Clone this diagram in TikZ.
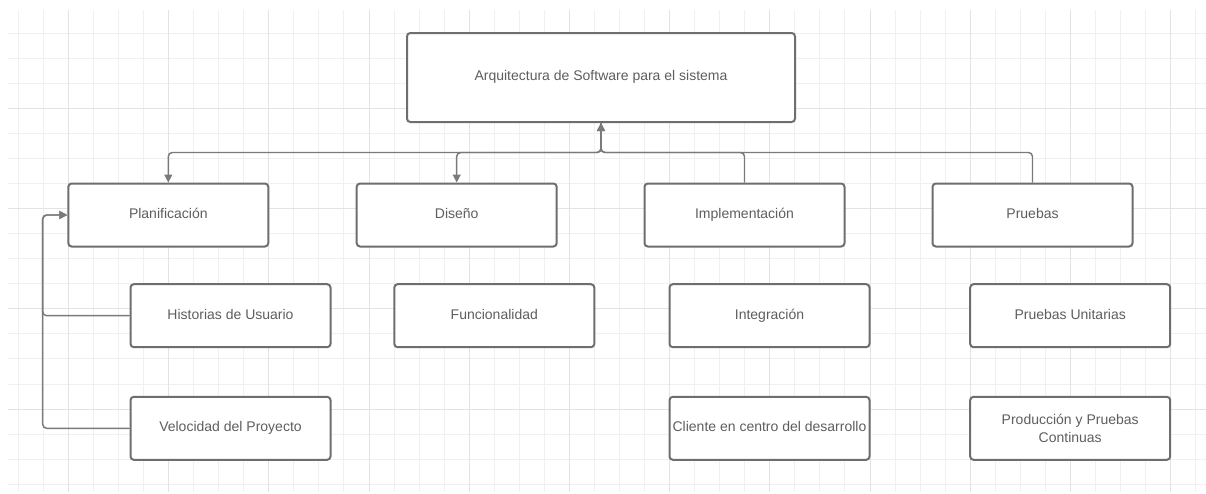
\documentclass[tikz,border=0pt]{standalone}
\usepackage{fontspec}
\setmainfont{Liberation Sans}
\usetikzlibrary{arrows.meta}
\definecolor{gridminor}{HTML}{F0F0F0}
\definecolor{gridmajor}{HTML}{E3E3E3}
\definecolor{boxline}{HTML}{6E6E6E}
\definecolor{linkline}{HTML}{7A7A7A}
\definecolor{labeltext}{HTML}{5E5E5E}
\begin{document}
\begin{tikzpicture}[x=0.75pt,y=-0.75pt,
  box/.style={draw=boxline,line width=1.5pt,rounded corners=2.5pt,fill=white,
    minimum width=150pt,minimum height=47.25pt,inner sep=1pt,text=labeltext,
    font=\fontsize{10.5}{14}\selectfont,align=center,
    text height=7.6pt,text depth=2.4pt},
  twoline/.style={text height=,text depth=},
  link/.style={draw=linkline,line width=1.1pt,rounded corners=3pt},
  tip/.style={-{Triangle[length=6pt,width=6pt]}}
]
% page and background grid
\useasboundingbox (0,0) rectangle (1206,493);
\fill[white] (0,0) rectangle (1206,493);
\foreach \i in {0,...,47}
  \draw[gridminor,line width=0.75pt] ({18.3+25.05*\i},10) -- ({18.3+25.05*\i},492);
\foreach \j in {0,...,18}
  \draw[gridminor,line width=0.75pt] (8,{33.3+25.05*\j}) -- (1206,{33.3+25.05*\j});
\foreach \i in {2,6,...,46}
  \draw[gridmajor,line width=0.75pt] ({18.3+25.05*\i},10) -- ({18.3+25.05*\i},492);
\foreach \j in {3,7,11,15}
  \draw[gridmajor,line width=0.75pt] (8,{33.3+25.05*\j}) -- (1206,{33.3+25.05*\j});

% root
\node[box,minimum width=291pt,minimum height=66.75pt] (top) at (601,77.5)
  {Arquitectura de Software para el sistema};

% phases
\node[box] (plan) at (168.3,215) {Planificación};
\node[box] (dis)  at (456.7,215) {Diseño};
\node[box] (impl) at (744.5,215) {Implementación};
\node[box] (prue) at (1032.5,215) {Pruebas};

% activities
\node[box] (hist)  at (230.5,315.7) {Historias de Usuario};
\node[box] (vel)   at (230.5,428.3) {Velocidad del Proyecto};
\node[box] (func)  at (494.3,315.7) {Funcionalidad};
\node[box] (integ) at (769.5,315.7) {Integración};
\node[box] (cli)   at (769.5,428.3) {Cliente en centro del desarrollo};
\node[box] (pu)    at (1070.2,315.7) {Pruebas Unitarias};
\node[box,twoline] (prod)  at (1070.2,428.3) {Producción y Pruebas\\Continuas};

% connectors
\coordinate (bus) at (601,152.5);
\coordinate (side) at (42.7,215);
\draw[link,tip] (impl.north) |- (bus) -- (top.south);
\draw[link,tip] (prue.north) |- (bus) -- (top.south);
\draw[link,tip] (top.south) -- (bus) -| (plan.north);
\draw[link,tip] (top.south) -- (bus) -| (dis.north);
\draw[link,tip] (hist.west) -| (side) -- (plan.west);
\draw[link,tip] (vel.west) -| (side) -- (plan.west);
\end{tikzpicture}
\end{document}
